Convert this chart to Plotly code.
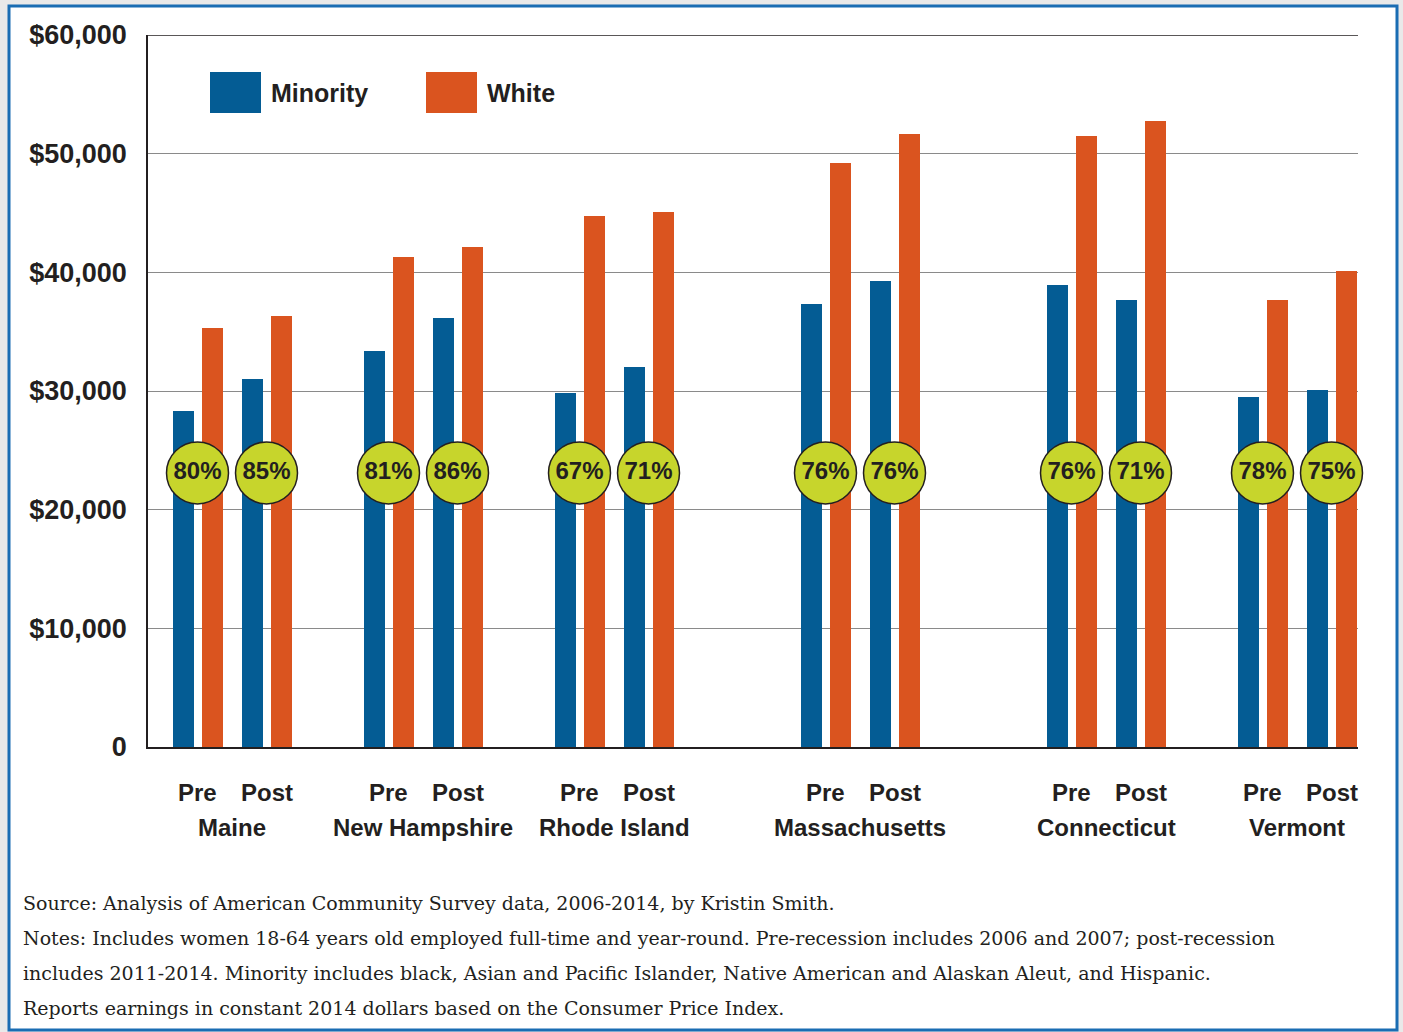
import plotly.graph_objects as go

# ---- data -------------------------------------------------------------
states = ["Maine", "New Hampshire", "Rhode Island", "Massachusetts", "Connecticut", "Vermont"]
periods = ["Pre", "Post"]
minority_pre = [28300, 33400, 29850, 37300, 38950, 29500]
minority_post = [31000, 36150, 32000, 39250, 37650, 30100]
white_pre = [35300, 41300, 44750, 49200, 51500, 37650]
white_post = [36300, 42150, 45100, 51650, 52750, 40100]
ratio_pre = ["80%", "81%", "67%", "76%", "76%", "78%"]
ratio_post = ["85%", "86%", "71%", "76%", "71%", "75%"]
y_ticks = [0, 10000, 20000, 30000, 40000, 50000, 60000]
y_tick_labels = ["0", "$10,000", "$20,000", "$30,000", "$40,000", "$50,000", "$60,000"]
source_lines = [
    "Source: Analysis of American Community Survey data, 2006-2014, by Kristin Smith.",
    "Notes: Includes women 18-64 years old employed full-time and year-round. Pre-recession includes 2006 and 2007; post-recession",
    "includes 2011-2014. Minority includes black, Asian and Pacific Islander, Native American and Alaskan Aleut, and Hispanic.",
    "Reports earnings in constant 2014 dollars based on the Consumer Price Index.",
]

# ---- styling / layout constants --------------------------------------
BLUE = "#045c94"
ORANGE = "#da541f"
LIME = "#c7d52c"
INK = "#231f20"
SANS = "Liberation Sans"
SERIF = "DejaVu Serif"

W, H = 1403, 1032
ML, MR, MT, MB = 148, 45, 35, 285
PW = W - ML - MR          # plot width in px; x axis runs in px units
PH = H - MT - MB

first_center = 84         # state group centre on the x axis
group_steps = [0, 191, 191, 246, 246, 191]
pair_half = 34.5          # Pre / Post offset from group centre
bar_half = 14.5           # Minority / White offset from period centre
bar_w = 21

group_x = []
acc = first_center
for step in group_steps:
    acc += step
    group_x.append(acc)

pre_x = [g - pair_half for g in group_x]
post_x = [g + pair_half for g in group_x]

fig = go.Figure()

# bars: minority left, white right of each period slot
for px_list, mins, whites in [(pre_x, minority_pre, white_pre), (post_x, minority_post, white_post)]:
    fig.add_trace(go.Bar(x=[p - bar_half for p in px_list], y=mins, width=bar_w,
                         marker=dict(color=BLUE, line=dict(width=0)), showlegend=False,
                         hoverinfo="y"))
    fig.add_trace(go.Bar(x=[p + bar_half for p in px_list], y=whites, width=bar_w,
                         marker=dict(color=ORANGE, line=dict(width=0)), showlegend=False,
                         hoverinfo="y"))

# ratio badges
badge_y = 23100
fig.add_trace(go.Scatter(
    x=pre_x + post_x, y=[badge_y] * 12, mode="markers+text",
    text=ratio_pre + ratio_post, textposition="middle center",
    textfont=dict(family=SANS, size=24, color=INK, weight=700),
    marker=dict(size=62, color=LIME, line=dict(color=INK, width=1.5)),
    cliponaxis=False, showlegend=False, hoverinfo="text"))

annotations = []
for i, s in enumerate(states):
    for x, lab in [(pre_x[i], periods[0]), (post_x[i], periods[1])]:
        annotations.append(dict(x=x, y=0, xref="x", yref="paper", text=lab, showarrow=False,
                                yanchor="middle", yshift=-45,
                                font=dict(family=SANS, size=24, color=INK, weight=700)))
    annotations.append(dict(x=group_x[i], y=0, xref="x", yref="paper", text=s, showarrow=False,
                            yanchor="middle", yshift=-80,
                            font=dict(family=SANS, size=24, color=INK, weight=700)))

# legend text
annotations.append(dict(x=121, y=1, xref="x", yref="paper", text="Minority", showarrow=False,
                        xanchor="left", yanchor="middle", yshift=-58,
                        font=dict(family=SANS, size=25, color=INK, weight=700)))
annotations.append(dict(x=337, y=1, xref="x", yref="paper", text="White", showarrow=False,
                        xanchor="left", yanchor="middle", yshift=-58,
                        font=dict(family=SANS, size=25, color=INK, weight=700)))

# source and notes
for k, line in enumerate(source_lines):
    annotations.append(dict(x=(21 - ML) / PW, y=0, xref="paper", yref="paper", text=line,
                            showarrow=False, xanchor="left", yanchor="middle",
                            yshift=-(156 + 35 * k),
                            font=dict(family=SERIF, size=19, color=INK)))

shapes = [
    # outer frame
    dict(type="rect", xref="paper", yref="paper", layer="below",
         x0=(9 - ML) / PW, x1=(1397 - ML) / PW,
         y0=-(1030 - MT - PH) / PH, y1=(MT + PH - 6) / PH,
         line=dict(color="#1a6db3", width=3), fillcolor="white"),
    # top rule of the plot box
    dict(type="line", xref="paper", yref="y", x0=0, x1=1, y0=60000, y1=60000,
         line=dict(color=INK, width=1.5)),
    # legend swatches
    dict(type="rect", xref="x", yref="y", ysizemode="pixel", yanchor=60000,
         x0=62, x1=113, y0=-37, y1=-78, fillcolor=BLUE, line=dict(width=0)),
    dict(type="rect", xref="x", yref="y", ysizemode="pixel", yanchor=60000,
         x0=278, x1=329, y0=-37, y1=-78, fillcolor=ORANGE, line=dict(width=0)),
]

fig.update_layout(
    width=W, height=H,
    margin=dict(l=ML, r=MR, t=MT, b=MB),
    paper_bgcolor="#e9e9e9", plot_bgcolor="white",
    barmode="overlay", bargap=0,
    xaxis=dict(range=[0, PW], showticklabels=False, showgrid=False, zeroline=False,
               showline=True, linecolor=INK, linewidth=1.5, fixedrange=True),
    yaxis=dict(range=[0, 60000], tickvals=y_ticks, ticktext=y_tick_labels,
               tickfont=dict(family=SANS, size=27, color=INK, weight=700),
               ticks="", ticklabelstandoff=14,
               showgrid=True, gridcolor="#8a8a8a", gridwidth=1, zeroline=False,
               showline=True, linecolor=INK, linewidth=1.5, fixedrange=True),
    annotations=annotations, shapes=shapes,
    showlegend=False,
)

fig.write_html("out.html")
